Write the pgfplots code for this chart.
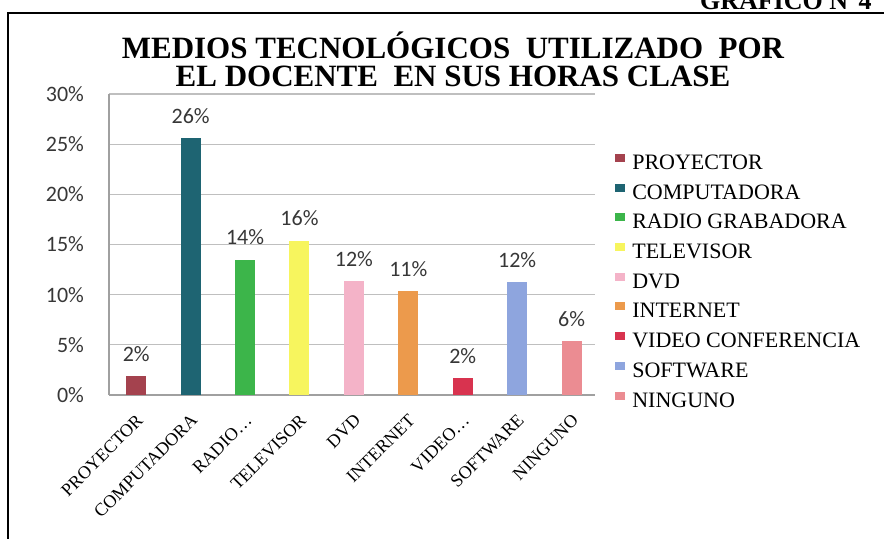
\documentclass[border=0pt]{standalone}
\usepackage{pgfplots}
\pgfplotsset{compat=1.18}
\usepackage{fontspec}
\setmainfont{Liberation Serif}
\newfontfamily\carlito{Carlito}

\definecolor{cProy}{RGB}{164,66,78}
\definecolor{cComp}{RGB}{30,100,114}
\definecolor{cRadio}{RGB}{60,181,74}
\definecolor{cTv}{RGB}{247,245,94}
\definecolor{cDvd}{RGB}{244,179,200}
\definecolor{cInt}{RGB}{236,154,76}
\definecolor{cVid}{RGB}{216,51,79}
\definecolor{cSoft}{RGB}{142,165,222}
\definecolor{cNin}{RGB}{235,140,146}
\definecolor{gridgray}{RGB}{191,191,191}
\definecolor{axgray}{RGB}{160,160,160}
\definecolor{lblgray}{RGB}{55,55,55}

\begin{document}
\begin{tikzpicture}
\begin{scope}[x=0.5pt,y=-0.5pt]
  \path[use as bounding box] (0,0) rectangle (884,538);
  \clip (0,0) rectangle (884,538);
  \draw[line width=0.9pt] (8,560) -- (8,13) -- (900,13);
  \node[anchor=base west, font=\bfseries\fontsize{13}{13}\selectfont] at (693,9) {GRAFICO N°4};
  \node[font=\bfseries\fontsize{15.5}{16}\selectfont] at (453,45) {MEDIOS TECNOLÓGICOS\ \ UTILIZADO\ \ POR};
  \node[font=\bfseries\fontsize{15.5}{16}\selectfont] at (453,76) {EL DOCENTE\ \ EN SUS HORAS CLASE};
  \coordinate (O) at (109,395);
\end{scope}

\begin{axis}[
    at={(O)}, anchor=south west,
    scale only axis,
    width=243pt, height=150.5pt,
    xmin=-0.5, xmax=8.43,
    ymin=0, ymax=30,
    ytick={0,5,...,30},
    xtick={0,...,8},
    xticklabels={PROYECTOR,COMPUTADORA,RADIO…,TELEVISOR,DVD,INTERNET,VIDEO…,SOFTWARE,NINGUNO},
    yticklabel={\pgfmathprintnumber{\tick}\%},
    /pgf/number format/assume math mode=true,
    yticklabel style={font=\carlito\fontsize{11}{11}\selectfont, text=lblgray, xshift=-9pt},
    xticklabel style={rotate=45, anchor=north east, font=\fontsize{9}{10}\selectfont, inner sep=1pt, xshift=-5.5pt, yshift=-5pt},
    major tick length=0pt,
    axis x line*=bottom, axis y line*=left,
    axis line style={color=axgray, line width=0.6pt, -},
    ymajorgrids, grid style={color=gridgray, line width=0.6pt},
    ybar, bar width=10pt,
    point meta=explicit symbolic,
    nodes near coords,
    nodes near coords style={font=\carlito\fontsize{11}{11}\selectfont, text=lblgray, anchor=south, inner sep=0pt, yshift=7pt},
    legend style={at={(1.041,0.804)}, anchor=north west, draw=none, fill=none,
      inner sep=0pt, row sep=4.35pt, font=\fontsize{11}{11}\selectfont,
      nodes={text height=8pt, text depth=2.5pt, inner ysep=0pt, inner xsep=3.5pt}},
    legend cell align=left,
    legend image code/.code={\fill[#1] (0pt,1pt) rectangle (5pt,5pt);},
  ]
  \addplot[fill=cProy, draw=none, bar shift=0pt] coordinates {(0,1.9) [2\%]};
  \addplot[fill=cComp, draw=none, bar shift=0pt] coordinates {(1,25.6) [26\%]};
  \addplot[fill=cRadio, draw=none, bar shift=0pt] coordinates {(2,13.5) [14\%]};
  \addplot[fill=cTv, draw=none, bar shift=0pt] coordinates {(3,15.4) [16\%]};
  \addplot[fill=cDvd, draw=none, bar shift=0pt] coordinates {(4,11.4) [12\%]};
  \addplot[fill=cInt, draw=none, bar shift=0pt] coordinates {(5,10.4) [11\%]};
  \addplot[fill=cVid, draw=none, bar shift=0pt] coordinates {(6,1.7) [2\%]};
  \addplot[fill=cSoft, draw=none, bar shift=0pt] coordinates {(7,11.3) [12\%]};
  \addplot[fill=cNin, draw=none, bar shift=0pt] coordinates {(8,5.4) [6\%]};
  \legend{PROYECTOR,COMPUTADORA,RADIO GRABADORA,TELEVISOR,DVD,INTERNET,VIDEO CONFERENCIA,SOFTWARE,NINGUNO}
\end{axis}
\end{tikzpicture}
\end{document}
